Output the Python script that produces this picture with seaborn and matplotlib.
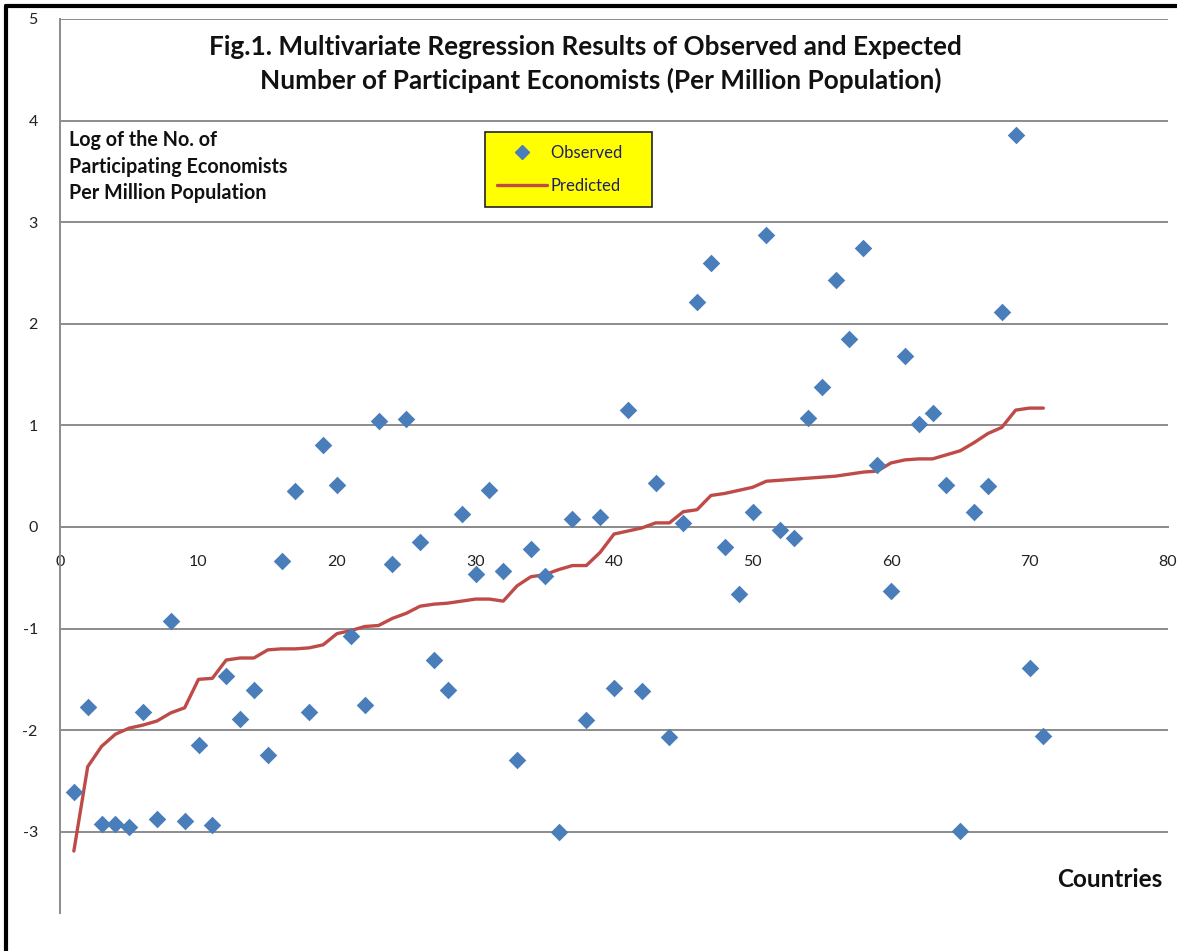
import numpy as np
import pandas as pd
import matplotlib
matplotlib.use("Agg")
import matplotlib.pyplot as plt
import seaborn as sns
from matplotlib.lines import Line2D

# ---- data ----
countries = list(range(1, 72))
observed = [-2.61, -1.77, -2.92, -2.92, -2.95, -1.82, -2.87, -0.93, -2.89, -2.15,
            -2.93, -1.47, -1.89, -1.60, -2.24, -0.34, 0.35, -1.82, 0.81, 0.41,
            -1.07, -1.75, 1.04, -0.36, 1.06, -0.15, -1.31, -1.60, 0.13, -0.46,
            0.36, -0.43, -2.29, -0.22, -0.48, -3.00, 0.08, -1.90, 0.10, -1.59,
            1.15, -1.61, 0.43, -2.07, 0.04, 2.21, 2.60, -0.20, -0.66, 0.15,
            2.87, -0.03, -0.11, 1.07, 1.38, 2.43, 1.85, 2.75, 0.61, -0.63,
            1.68, 1.01, 1.12, 0.41, -2.99, 0.15, 0.40, 2.12, 3.86, -1.39,
            -2.06]
predicted = [-3.19, -2.36, -2.16, -2.04, -1.98, -1.95, -1.91, -1.83, -1.78, -1.50,
             -1.49, -1.31, -1.29, -1.29, -1.21, -1.20, -1.20, -1.19, -1.16, -1.05,
             -1.02, -0.98, -0.97, -0.90, -0.85, -0.78, -0.76, -0.75, -0.73, -0.71,
             -0.71, -0.73, -0.58, -0.49, -0.47, -0.42, -0.38, -0.38, -0.25, -0.07,
             -0.04, -0.01, 0.04, 0.04, 0.15, 0.17, 0.31, 0.33, 0.36, 0.39,
             0.45, 0.46, 0.47, 0.48, 0.49, 0.50, 0.52, 0.54, 0.55, 0.63,
             0.66, 0.67, 0.67, 0.71, 0.75, 0.83, 0.92, 0.98, 1.15, 1.17,
             1.17]
x_ticks = [0, 10, 20, 30, 40, 50, 60, 70, 80]
y_ticks = [-3, -2, -1, 0, 1, 2, 3, 4, 5]

title_lines = ["Fig.1. Multivariate Regression Results of Observed and Expected",
               "Number of Participant Economists (Per Million Population)"]
y_label = "Log of the No. of\nParticipating Economists\nPer Million Population"
x_label = "Countries"

df = pd.DataFrame({"country": countries, "observed": observed, "predicted": predicted})

sns.set_theme(style="white")
plt.rcParams['font.family'] = ['Lato', 'DejaVu Sans']

BLUE = "#4A7EBB"
RED = "#BE4B48"
GRID = "#8C8C8C"

fig = plt.figure(figsize=(11.77, 9.51), dpi=100)
ax = fig.add_axes([60 / 1177, 1 - 913 / 951, (1168 - 60) / 1177, (913 - 19) / 951])

sns.lineplot(data=df, x="country", y="predicted", ax=ax, color=RED, lw=2.4, zorder=3)
sns.scatterplot(data=df, x="country", y="observed", ax=ax, marker="D", s=80,
                color=BLUE, edgecolor=BLUE, linewidth=0, zorder=4)

ax.set_xlim(0, 80)
ax.set_ylim(-3.8, 5)
ax.set_xticks(x_ticks)
ax.set_yticks(y_ticks)
ax.set_xticklabels([str(v) for v in x_ticks])
ax.set_yticklabels([str(v) for v in y_ticks])
ax.set_xlabel("")
ax.set_ylabel("")

for yv in y_ticks:
    ax.axhline(yv, color=GRID, lw=1.4, zorder=1)

for s in ["top", "right"]:
    ax.spines[s].set_visible(False)
ax.spines["left"].set_color(GRID)
ax.spines["left"].set_linewidth(1.4)
ax.spines["bottom"].set_position(("data", 0))
ax.spines["bottom"].set_color(GRID)
ax.spines["bottom"].set_linewidth(1.4)

ax.tick_params(axis="both", which="major", direction="out", length=6, width=1.4,
               color=GRID, labelsize=11.5, labelcolor="#222222")
ax.tick_params(axis="y", pad=10)
ax.tick_params(axis="x", pad=14)
ax.set_facecolor("white")
ax.patch.set_alpha(0)

# title and text annotations
ax.text(0.4738, 0.9687, title_lines[0], transform=ax.transAxes, ha="center", va="center",
        fontsize=18.8, fontweight="bold", color="#111111")
ax.text(0.4883, 0.9318, title_lines[1], transform=ax.transAxes, ha="center", va="center",
        fontsize=18.8, fontweight="bold", color="#111111")
ax.text(0.008, 0.876, y_label, transform=ax.transAxes, ha="left", va="top",
        fontsize=14.2, fontweight="bold", color="#111111", linespacing=1.42)
ax.text(0.995, 0.037, x_label, transform=ax.transAxes, ha="right", va="center",
        fontsize=17.5, fontweight="bold", color="#111111")

handles = [Line2D([0], [0], marker="D", color="none", markerfacecolor=BLUE,
                  markeredgecolor=BLUE, markersize=7, label="Observed    "),
           Line2D([0], [0], color=RED, lw=2.4, label="Predicted")]
leg = ax.legend(handles=handles, loc="upper left", bbox_to_anchor=(0.3835, 0.8736),
                frameon=True, fancybox=False, fontsize=12, borderpad=0.75,
                labelspacing=1.05, handlelength=3.0, handletextpad=0.2,
                borderaxespad=0)
leg.get_frame().set_facecolor("#FFFF00")
leg.get_frame().set_edgecolor("#222222")
leg.get_frame().set_linewidth(1.2)
leg.get_frame().set_alpha(1)
for t in leg.get_texts():
    t.set_color("#1F1F66")

# figure border lines (left and top)
fig.add_artist(Line2D([6 / 1177, 6 / 1177], [0, 1 - 6 / 951], color="black", lw=3,
                      transform=fig.transFigure))
fig.add_artist(Line2D([6 / 1177, 1], [1 - 6 / 951, 1 - 6 / 951], color="black", lw=3,
                      transform=fig.transFigure))

fig.savefig("out.png", dpi=100, facecolor="white")
